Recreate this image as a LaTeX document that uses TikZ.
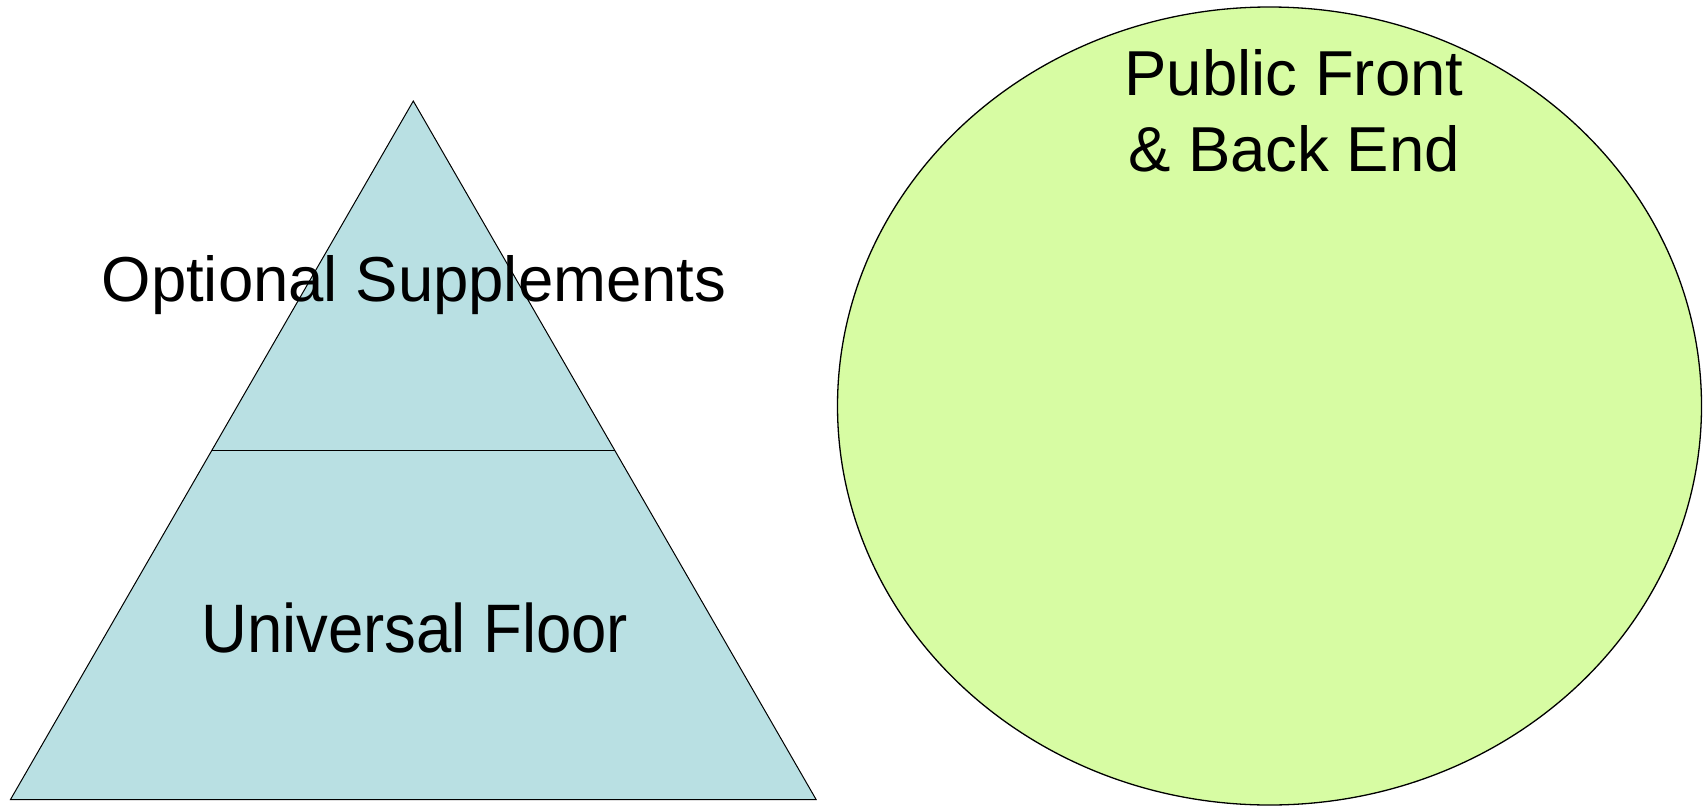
\documentclass[tikz,border=0pt]{standalone}
\usepackage{fontspec}
\setmainfont{Liberation Sans}
\usetikzlibrary{calc}
\definecolor{pyramidfill}{RGB}{185,224,227}
\definecolor{circlefill}{RGB}{215,252,163}
\begin{document}
\begin{tikzpicture}[x=1pt,y=-1pt,
  outline/.style={draw=black,line width=1pt,line join=miter},
  bigtext/.style={font=\fontsize{63.5}{75}\selectfont,inner sep=0pt,anchor=base,align=center}]
  \useasboundingbox (0,0) rectangle (1704,806);
  % pyramid corners and the level that splits it in two
  \coordinate (apex) at (413.3,101);
  \coordinate (baseL) at (10.5,799.5);
  \coordinate (baseR) at (816.1,799.5);
  \coordinate (midL) at ($(apex)!0.5!(baseL)$);
  \coordinate (midR) at ($(apex)!0.5!(baseR)$);
  \filldraw[outline,fill=pyramidfill] (apex) -- (baseR) -- (baseL) -- cycle;
  \draw[outline] (midL) -- (midR);
  % the round part on the right
  \filldraw[outline,fill=circlefill,line width=1.3pt] (1269.5,406) ellipse [x radius=432,y radius=399];
  % labels
  \node[bigtext] (supp) at (414,301) {Optional Supplements};
  \node[bigtext] (floor) at (414.7,652) {\scalebox{1}[1.08]{Universal Floor}};
  \node[bigtext] (pubA) at (1294,95) {Public Front};
  \node[bigtext] (pubB) at (1294,171) {\& Back End};
\end{tikzpicture}
\end{document}
